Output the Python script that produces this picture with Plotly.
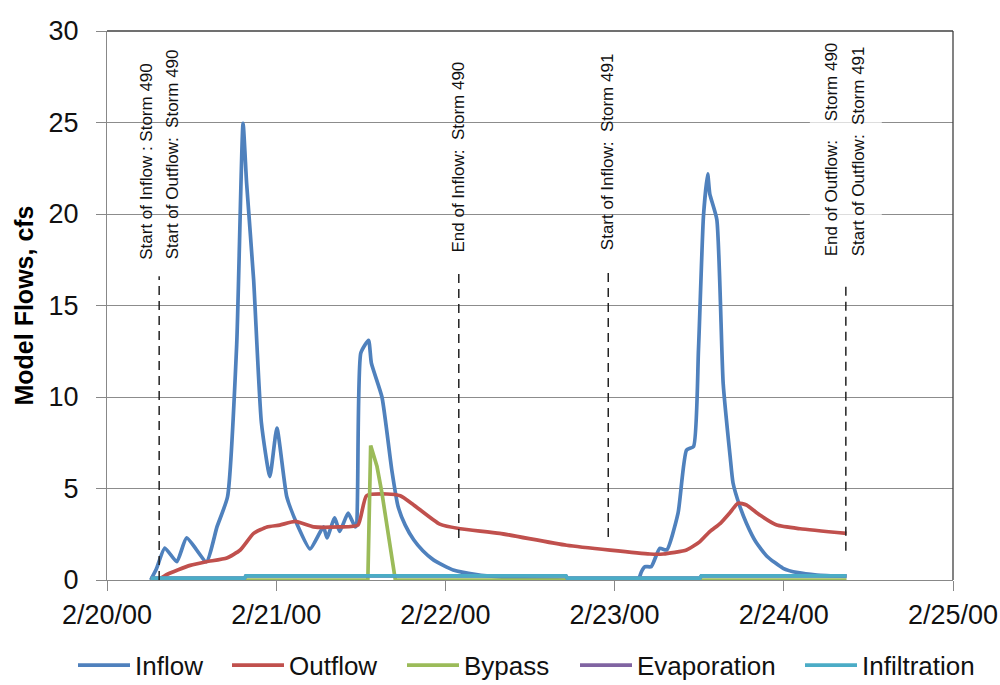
import datetime as dt
import plotly.graph_objects as go

BASE = dt.datetime(2000, 2, 20)

# ---- data (hours after 2/20/00 00:00, flow in cfs) ----
inflow_h = [6.2, 7.0, 8.2, 9.9, 11.3, 14.1, 15.6, 17.1, 18.4, 19.3, 19.8, 20.8, 21.9, 23.1, 24.1,
            25.5, 26.9, 28.8, 30.7, 31.2, 32.3, 33.0, 34.2, 35.2, 35.4, 36.0, 37.1, 37.5, 39.0,
            40.4, 41.3, 42.3, 43.5, 44.8, 46.3, 47.7, 49.1, 52.4, 56.0, 60.0, 65.0, 75.3, 75.8,
            76.3, 77.2, 78.4, 79.4, 81.0, 82.2, 83.2, 83.9, 84.6, 85.2, 85.5, 86.5, 87.4, 88.4,
            88.8, 89.7, 90.7, 92.0, 93.6, 95.9, 98.0, 100.7, 104.9]
inflow_v = [0.0, 0.6, 1.75, 1.0, 2.3, 1.0, 2.9, 4.55, 12.9, 24.95, 21.7, 16.4, 8.6, 5.65, 8.3,
            4.55, 3.1, 1.7, 2.9, 2.3, 3.4, 2.65, 3.65, 2.9, 3.0, 12.4, 13.1, 11.85, 10.0,
            6.0, 4.0, 3.0, 2.2, 1.6, 1.1, 0.8, 0.55, 0.3, 0.15, 0.05, 0.0, 0.0, 0.45,
            0.73, 0.73, 1.73, 1.64, 3.65, 7.1, 7.3, 12.6, 19.85, 22.2, 21.1, 19.7, 10.75, 6.7,
            5.3, 4.1, 3.1, 2.1, 1.3, 0.64, 0.4, 0.27, 0.2]

outflow_h = [7.3, 8.5, 11.8, 14.1, 17.0, 18.9, 20.8, 22.7, 24.5, 26.7, 29.3, 33.0, 35.6, 36.8,
             39.7, 41.6, 43.5, 47.2, 50.1, 55.7, 65.2, 77.0, 78.9, 82.2, 84.1, 85.5, 87.0,
             88.4, 89.5, 90.7, 92.6, 95.0, 98.3, 104.9]
outflow_v = [0.0, 0.3, 0.8, 1.0, 1.2, 1.64, 2.55, 2.9, 3.0, 3.2, 2.9, 2.9, 3.0, 4.6,
             4.7, 4.6, 4.1, 3.05, 2.8, 2.55, 1.9, 1.42, 1.42, 1.64, 2.1, 2.65, 3.1,
             3.7, 4.2, 4.1, 3.55, 3.0, 2.8, 2.55]

bypass_h = [6.2, 37.0, 37.4, 38.3, 39.0, 40.9, 104.9]
bypass_v = [0.0, 0.0, 7.35, 6.2, 4.75, 0.0, 0.0]

evap_h = [6.2, 19.5, 19.7, 65.1, 65.3, 84.1, 84.3, 104.9]
evap_v = [0.1, 0.1, 0.22, 0.22, 0.1, 0.1, 0.22, 0.22]

infil_h = [6.2, 19.5, 19.7, 65.1, 65.3, 84.1, 84.3, 104.9]
infil_v = [0.1, 0.1, 0.22, 0.22, 0.1, 0.1, 0.22, 0.22]

# event markers: hour, dashed line bottom/top (cfs), label lines, label bottom (cfs)
event_h = [7.4, 49.9, 71.1, 104.8]
event_lo = [0.0, 2.3, 2.35, 1.6]
event_hi = [16.6, 16.9, 17.1, 16.3]
event_txt = [["Start of Inflow : Storm 490", "Start of Outflow:  Storm 490"],
             ["End of Inflow:  Storm 490"],
             ["Start of Inflow:  Storm 491"],
             ["End of Outflow:    Storm 490", "Start of Outflow:  Storm 491"]]
event_txt_y = [17.4, 17.8, 17.9, 17.6]

series_names = ["Inflow", "Outflow", "Bypass", "Evaporation", "Infiltration"]
colors = ["#4F81BD", "#C0504D", "#9BBB59", "#8064A2", "#4BACC6"]
line_shapes = ["spline", "spline", "linear", "linear", "linear"]
legend_x = [0.073, 0.227, 0.402, 0.575, 0.800]
x_ticks = ["2/20/00", "2/21/00", "2/22/00", "2/23/00", "2/24/00", "2/25/00"]


def t(h):
    return BASE + dt.timedelta(hours=h)


SANS = "Liberation Sans, Arial, sans-serif"

fig = go.Figure()
data = [(inflow_h, inflow_v), (outflow_h, outflow_v), (bypass_h, bypass_v),
        (evap_h, evap_v), (infil_h, infil_v)]
legend_ids = ["legend"] + ["legend%d" % (i + 2) for i in range(len(series_names) - 1)]
for (hs, vs), name, col, ls, lid in zip(data, series_names, colors, line_shapes, legend_ids):
    fig.add_trace(go.Scatter(x=[t(h) for h in hs], y=vs, mode="lines", name=name,
                             legend=lid,
                             line=dict(color=col, width=3.7, shape=ls, smoothing=0.5)))

shapes = []
annotations = []
for h, lo, hi, lines, ty in zip(event_h, event_lo, event_hi, event_txt, event_txt_y):
    shapes.append(dict(type="line", xref="x", yref="y", x0=t(h), x1=t(h), y0=lo, y1=hi,
                       line=dict(color="#222222", width=1.5, dash="9px,6px"), layer="above"))
    n = len(lines)
    for i, txt in enumerate(lines):
        shift = (i - (n - 1) / 2) * 27
        annotations.append(dict(x=t(h), y=ty, xref="x", yref="y", text=txt, showarrow=False,
                                textangle=-90, xanchor="center", yanchor="bottom",
                                xshift=shift, font=dict(family=SANS, size=17, color="#111111")))

# light box behind last label
shapes.append(dict(type="rect", xref="x", yref="y", x0=t(99.7), x1=t(109.9), y0=17.2, y1=30,
                   fillcolor="rgba(255,255,255,0.7)", line=dict(width=0), layer="between"))
# plot frame top/right
shapes.append(dict(type="line", xref="paper", yref="paper", x0=0, x1=1, y0=1, y1=1,
                   line=dict(color="#404040", width=1.3)))
shapes.append(dict(type="line", xref="paper", yref="paper", x0=1, x1=1, y0=0, y1=1,
                   line=dict(color="#404040", width=1.3)))

legends = {}
for lid, lx in zip(legend_ids, legend_x):
    legends[lid] = dict(orientation="h", xref="container", yref="container",
                        x=lx, xanchor="left", y=0.029, yanchor="middle",
                        bgcolor="rgba(0,0,0,0)", borderwidth=0,
                        font=dict(family=SANS, size=26, color="#111111"), itemwidth=52)

fig.update_layout(
    width=1000, height=685,
    margin=dict(l=107, r=47, t=31, b=105, autoexpand=False),
    paper_bgcolor="white", plot_bgcolor="white",
    shapes=shapes, annotations=annotations,
    showlegend=True,
    xaxis=dict(type="date", range=[t(0), t(120)],
               tickvals=[t(24 * i) for i in range(len(x_ticks))], ticktext=x_ticks,
               showgrid=False, showline=True, linecolor="#888888", linewidth=1.3,
               ticks="outside", ticklen=10, tickcolor="#888888",
               tickfont=dict(family=SANS, size=27, color="#111111"), zeroline=False),
    yaxis=dict(range=[0, 30], dtick=5, showgrid=True, gridcolor="#8c8c8c", gridwidth=1,
               showline=True, linecolor="#888888", linewidth=1.3,
               ticks="outside", ticklen=10, tickcolor="#888888", ticklabelstandoff=12,
               tickfont=dict(family=SANS, size=27, color="#111111"), zeroline=False,
               title=dict(text="<b>Model Flows, cfs</b>", standoff=7,
                          font=dict(family=SANS, size=25, color="#000000"))),
    **legends,
)

fig.write_html("out.html", config={"displayModeBar": False},
               post_script="document.body.style.margin='0px';")
